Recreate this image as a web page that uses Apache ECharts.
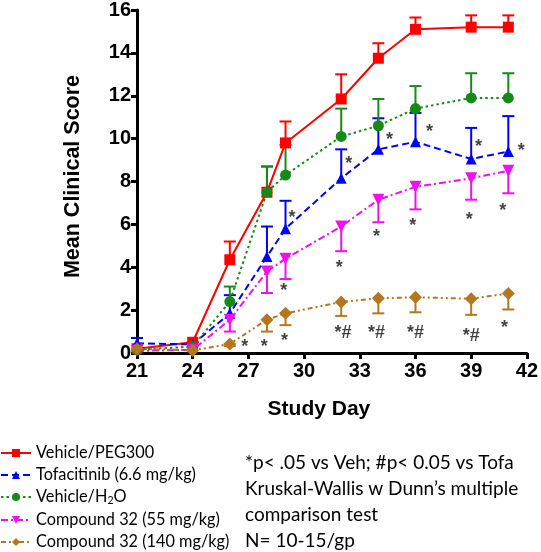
<!DOCTYPE html>
<html><head><meta charset="utf-8">
<script src="https://cdn.jsdelivr.net/npm/echarts@6/dist/echarts.min.js"></script>
<style>html,body{margin:0;padding:0;background:#fff}#c{width:541px;height:552px}</style>
</head><body><div id="c"></div>
<script>
// ---- data ----
const days = [21, 24, 26, 28, 29, 32, 34, 36, 39, 41];
const names = ['Vehicle/PEG300', 'Tofacitinib (6.6 mg/kg)', 'Vehicle/H2O', 'Compound 32 (55 mg/kg)', 'Compound 32 (140 mg/kg)'];
const vehPEG    = [0.2, 0.5, 4.35, 7.5, 9.8, 11.85, 13.75, 15.1, 15.2, 15.2];
const vehPEGErr = [0, 0, 0.85, 1.2, 1.0, 1.15, 0.7, 0.55, 0.55, 0.55];
const tofa      = [0.45, 0.4, 1.85, 4.5, 5.8, 8.15, 9.5, 9.85, 9.05, 9.4];
const tofaErr   = [0.25, 0.1, 0.85, 1.4, 1.3, 1.35, 1.45, 1.35, 1.45, 1.65];
const vehH2O    = [0.15, 0.3, 2.4, 7.5, 8.3, 10.1, 10.6, 11.4, 11.9, 11.9];
const vehH2OErr = [0, 0, 0.7, 1.2, 1.4, 1.3, 1.25, 1.05, 1.15, 1.15];
const cmp55     = [0.1, 0.15, 1.55, 3.8, 4.4, 5.9, 7.15, 7.75, 8.15, 8.5];
const cmp55Err  = [0, 0, 0.55, 1.0, 0.95, 1.15, 1.05, 1.05, 1.0, 1.05];
const cmp140    = [0.2, 0.12, 0.42, 1.55, 1.85, 2.38, 2.55, 2.6, 2.53, 2.78];
const cmp140Err = [0, 0, 0.1, 0.55, 0.55, 0.65, 0.7, 0.7, 0.75, 0.75];
// significance marks
const tofaMarkX = [29.35, 32.4, 34.6, 36.75, 39.4, 41.7];
const tofaMarkY = [6.5, 9.0, 10.1, 10.5, 9.8, 9.6];
const cmp55MarkX = [28.9, 31.9, 33.9, 35.85, 38.9, 40.7];
const cmp55MarkY = [3.1, 4.15, 5.6, 6.1, 6.4, 6.8];
const cmp140MarkX = [26.8, 27.85, 28.95, 32.1, 33.9, 36, 39, 40.8];
const cmp140MarkY = [0.47, 0.47, 0.75, 1.1, 1.1, 1.1, 1.0, 1.35];
const cmp140MarkT = ['*', '*', '*', '*#', '*#', '*#', '*#', '*'];
const xTicks = [21, 24, 27, 30, 33, 36, 39, 42];
const yTicks = [0, 2, 4, 6, 8, 10, 12, 14, 16];
const noteLines = ['*p< .05 vs Veh; #p< 0.05 vs Tofa', 'Kruskal-Wallis w Dunn\u2019s multiple', 'comparison test', 'N= 10-15/gp'];

// ---- styles ----
const colors = ['#ff0000', '#0000ff', '#168a16', '#ee11ee', '#b4771f'];
const dashes = ['solid', [7, 4], [2.5, 3], [7, 3, 2, 3], [5, 3, 2, 3, 2, 3]];
const symbols = ['rect', 'triangle', 'circle', 'path://M0,0 L10,0 L5,10 Z', 'diamond'];
const symSizes = [11, 11, 11, 12, 13];
const means = [vehPEG, tofa, vehH2O, cmp55, cmp140];
const errs = [vehPEGErr, tofaErr, vehH2OErr, cmp55Err, cmp140Err];
const dirs = [1, 1, 1, -1, -1];

const series = [];
for (let i = 0; i < 5; i++) {
  const col = colors[i], dir = dirs[i];
  series.push({
    type: 'custom', name: names[i] + ' err', z: 2,
    data: days.map((d, k) => [d, means[i][k], errs[i][k]]),
    renderItem: function (params, api) {
      const x = api.value(0), m = api.value(1), e = api.value(2);
      if (!e) return { type: 'group', children: [] };
      const p0 = api.coord([x, m]);
      const p1 = api.coord([x, m + dir * e]);
      return { type: 'group', children: [
        { type: 'line', shape: { x1: p0[0], y1: p0[1], x2: p1[0], y2: p1[1] }, style: { stroke: col, lineWidth: 2 } },
        { type: 'line', shape: { x1: p1[0] - 6, y1: p1[1], x2: p1[0] + 6, y2: p1[1] }, style: { stroke: col, lineWidth: 2 } }
      ]};
    }
  });
}
for (let i = 0; i < 5; i++) {
  series.push({
    type: 'line', name: names[i], z: 3,
    data: days.map((d, k) => [d, means[i][k]]),
    symbol: symbols[i], symbolSize: symSizes[i],
    showAllSymbol: true,
    itemStyle: { color: colors[i] },
    lineStyle: { color: colors[i], width: 2, type: dashes[i] }
  });
}
function markSeries(xs, ys, ts) {
  return {
    type: 'scatter', z: 5, symbolSize: 1, itemStyle: { color: 'rgba(0,0,0,0)' },
    data: xs.map((x, k) => [x, ys[k], ts ? ts[k] : '*']),
    label: { show: true, position: 'inside', formatter: p => p.value[2], color: '#111',
      fontFamily: 'Liberation Sans', fontWeight: 'bold', fontSize: 18, offset: [0, 4] }
  };
}
series.push(markSeries(tofaMarkX, tofaMarkY));
series.push(markSeries(cmp55MarkX, cmp55MarkY));
series.push(markSeries(cmp140MarkX, cmp140MarkY, cmp140MarkT));

const axisFont = { fontFamily: 'Liberation Sans', fontWeight: 'bold', fontSize: 20, color: '#000' };
const chart = echarts.init(document.getElementById('c'), null, { renderer: 'canvas' });
chart.setOption({
  backgroundColor: '#fff',
  animation: false,
  grid: { left: 137, right: 12, top: 10, bottom: 199, containLabel: false },
  xAxis: {
    type: 'value', min: xTicks[0], max: xTicks[xTicks.length - 1], interval: 3,
    name: 'Study Day', nameLocation: 'middle', nameGap: 46,
    nameTextStyle: Object.assign({}, axisFont, { fontSize: 21, padding: [0, 26, 0, 0] }),
    axisLine: { lineStyle: { color: '#000', width: 3 } },
    axisTick: { length: 6, lineStyle: { color: '#000', width: 3 } },
    axisLabel: Object.assign({ margin: 8 }, axisFont),
    splitLine: { show: false }
  },
  yAxis: {
    type: 'value', min: yTicks[0], max: yTicks[yTicks.length - 1], interval: 2,
    name: 'Mean Clinical Score', nameLocation: 'middle', nameGap: 53,
    nameTextStyle: Object.assign({}, axisFont, { fontSize: 21.5, padding: [0, 0, 0, 10] }),
    axisLine: { show: true, lineStyle: { color: '#000', width: 3 } },
    axisTick: { show: true, length: 6, lineStyle: { color: '#000', width: 3 } },
    axisLabel: Object.assign({ margin: 6 }, axisFont),
    splitLine: { show: false }
  },
  legend: {
    data: names, orient: 'vertical', left: 0, top: 445, height: 130, itemGap: 6,
    itemWidth: 30, itemHeight: 10, padding: 0,
    textStyle: { fontFamily: 'Lato', fontSize: 16.3, color: '#000',
      rich: { sub: { fontFamily: 'Lato', fontSize: 10.5, padding: [7, 0, 0, 0] } } },
    formatter: n => n === 'Vehicle/H2O' ? 'Vehicle/H{sub|2}O' : n
  },
  graphic: noteLines.map((t, k) => ({
    type: 'text', left: 245, top: 453 + k * 26,
    style: { text: t, font: '19px Lato', fill: '#000' }
  })),
  series: series
});
</script></body></html>
